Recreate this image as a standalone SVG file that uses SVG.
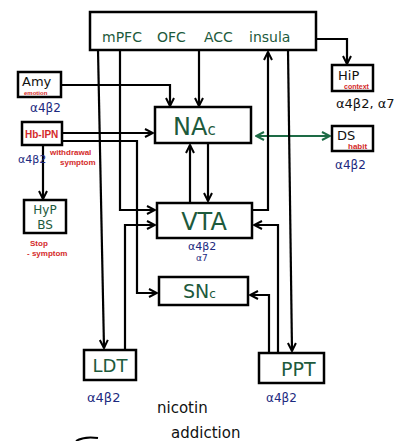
<svg xmlns="http://www.w3.org/2000/svg" width="417" height="441" viewBox="0 0 417 441">
<defs>
<marker id="ahk" viewBox="0 0 10 10" refX="9" refY="5" markerWidth="10" markerHeight="10" orient="auto-start-reverse" markerUnits="userSpaceOnUse">
<path d="M1,1 L9,5 L1,9" fill="none" stroke="#000" stroke-width="2"/>
</marker>
<marker id="ahg" viewBox="0 0 10 10" refX="9" refY="5" markerWidth="10" markerHeight="10" orient="auto-start-reverse" markerUnits="userSpaceOnUse">
<path d="M1,1 L9,5 L1,9" fill="none" stroke="#1d6b45" stroke-width="2"/>
</marker>
</defs>
<style>
.box{fill:#fff;stroke:#000;stroke-width:2.5}
.c{fill:none;stroke:#000;stroke-width:2.2;marker-end:url(#ahk)}
.g{font-family:"DejaVu Sans","Liberation Sans",sans-serif;fill:#1d5a3c}
.k{font-family:"DejaVu Sans","Liberation Sans",sans-serif;fill:#111}
.r{font-family:"Liberation Sans","DejaVu Sans",sans-serif;fill:#d42a2a;font-weight:bold}
.n{font-family:"DejaVu Sans","Liberation Sans",sans-serif;fill:#1c2a80}
</style>
<rect width="417" height="441" fill="#fff"/>
<g id="connectors">
<path class="c" d="M316,39 H347 V64"/>
<path class="c" d="M61,85 H170 V106"/>
<path class="c" d="M199,50 V106"/>
<path class="c" d="M62,133 H153"/>
<path class="c" d="M62,141 H137 V293 H157"/>
<path class="c" d="M43,145 V199"/>
<path class="c" d="M98,50 L104,348"/>
<path class="c" d="M120,50 V210 H155"/>
<path class="c" d="M125,350 V225 H155"/>
<path class="c" d="M190,203 V145"/>
<path class="c" d="M208,143 V201"/>
<path d="M256,136 H330" fill="none" stroke="#1d6b45" stroke-width="2.2" marker-start="url(#ahg)" marker-end="url(#ahg)"/>
<path class="c" d="M252,210 H268 V52"/>
<path class="c" d="M288,50 L292,351"/>
<path class="c" d="M278,353 V225 H254"/>
<path class="c" d="M269,353 V295 H250"/>
</g>
<g id="top">
<rect class="box" x="90" y="12" width="226" height="38"/>
<text class="g" x="102" y="42" font-size="14">mPFC</text>
<text class="g" x="157" y="42" font-size="14">OFC</text>
<text class="g" x="204" y="42" font-size="14">ACC</text>
<text class="g" x="249" y="42" font-size="14">insula</text>
</g>
<g id="hip">
<rect class="box" x="332" y="65" width="41" height="26"/>
<text class="k" x="338" y="80" font-size="13">HiP</text>
<text class="r" x="344" y="89" font-size="7">context</text>
<text class="k" x="336" y="108" font-size="13">α4β2, α7</text>
</g>
<g id="amy">
<rect class="box" x="18" y="72" width="43" height="25"/>
<text class="k" x="22" y="86" font-size="13">Amy</text>
<text class="r" x="24" y="95" font-size="6">emotion</text>
<text class="n" x="30" y="112" font-size="12">α4β2</text>
</g>
<g id="nac">
<rect class="box" x="155" y="107" width="96" height="36"/>
<text class="g" x="173" y="135" font-size="24">NA<tspan font-size="15">c</tspan></text>
</g>
<g id="hb">
<rect class="box" x="22" y="122" width="40" height="23"/>
<text class="r" x="25" y="138" font-size="10">Hb-IPN</text>
<text class="n" x="18" y="163" font-size="11">α4β2</text>
<text class="r" x="50" y="155" font-size="8">withdrawal</text>
<text class="r" x="60" y="165" font-size="8">symptom</text>
</g>
<g id="ds">
<rect class="box" x="332" y="126" width="41" height="25"/>
<text class="k" x="337" y="140" font-size="13">DS</text>
<text class="r" x="348" y="149" font-size="8">habit</text>
<text class="n" x="335" y="169" font-size="12">α4β2</text>
</g>
<g id="hyp">
<rect class="box" x="24" y="200" width="42" height="33"/>
<text class="g" x="45" y="214" font-size="12" text-anchor="middle">HyP</text>
<text class="g" x="45" y="229" font-size="12" text-anchor="middle">BS</text>
<text class="r" x="30" y="246" font-size="8">Stop</text>
<text class="r" x="27" y="256" font-size="8">- symptom</text>
</g>
<g id="vta">
<rect class="box" x="157" y="203" width="95" height="35"/>
<text class="g" x="204" y="230" font-size="24" text-anchor="middle">VTA</text>
<text class="n" x="188" y="250" font-size="11">α4β2</text>
<text class="n" x="196" y="261" font-size="9">α7</text>
</g>
<g id="snc">
<rect class="box" x="159" y="277" width="89" height="28"/>
<text class="g" x="183" y="298" font-size="19">SN<tspan font-size="12">c</tspan></text>
</g>
<g id="ldt">
<rect class="box" x="84" y="350" width="52" height="30"/>
<text class="g" x="110" y="372" font-size="18" text-anchor="middle">LDT</text>
<text class="n" x="87" y="402" font-size="13">α4β2</text>
</g>
<g id="ppt">
<rect class="box" x="259" y="353" width="65" height="30"/>
<text class="g" x="281" y="376" font-size="19">PPT</text>
<text class="n" x="266" y="402" font-size="12">α4β2</text>
</g>
<g id="caption">
<text class="k" x="157" y="413" font-size="15">nicotin</text>
<text class="k" x="171" y="438" font-size="15">addiction</text>
<path d="M76,441 Q84,436 98,438" fill="none" stroke="#000" stroke-width="2"/>
</g>
</svg>
